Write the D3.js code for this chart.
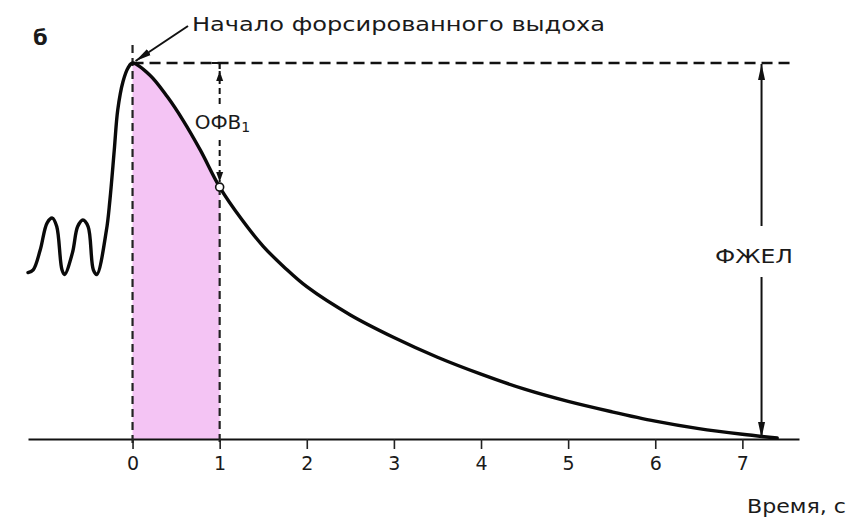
<!DOCTYPE html>
<html lang="ru">
<head>
<meta charset="utf-8">
<script src="https://cdn.jsdelivr.net/npm/d3@7"></script>
<style>
  html, body { margin: 0; padding: 0; background: #fff; }
  svg { display: block; }
  text { font-family: "DejaVu Sans", sans-serif; fill: #1a1a1a; }
</style>
</head>
<body>
<svg id="chart" width="857" height="518"></svg>
<script>
// Спирограмма: объём лёгких во времени (с), форсированный выдох начинается в t = 0
const timeS = [
  -1.20, -1.14, -1.06, -0.98, -0.92, -0.87, -0.81, -0.78, -0.69, -0.63, -0.57, -0.51,
  -0.45, -0.41, -0.30, -0.26, -0.21, -0.17, -0.11, -0.05, 0.00,
  0.20, 0.40, 0.58, 0.78, 1.00, 1.25, 1.50, 1.75, 2.00, 2.50, 3.00, 3.50, 4.00,
  4.50, 5.00, 5.50, 6.00, 6.50, 7.00, 7.40
];
const volumeL = [
  1.77, 1.80, 2.01, 2.30, 2.35, 2.26, 1.80, 1.75, 1.98, 2.26, 2.33, 2.26,
  1.80, 1.75, 2.22, 2.54, 3.07, 3.50, 3.80, 3.95, 4.00,
  3.87, 3.64, 3.39, 3.07, 2.68, 2.34, 2.05, 1.82, 1.62, 1.32, 1.08, 0.87, 0.69,
  0.53, 0.40, 0.29, 0.19, 0.11, 0.05, 0.01
];
const tickValues = [0, 1, 2, 3, 4, 5, 6, 7];
const tickLabels = ["0", "1", "2", "3", "4", "5", "6", "7"];

const fev1Time = 1;      // ОФВ1 — объём за первую секунду
const fvcTime = 7.22;    // момент окончания выдоха (ФЖЕЛ)
const peakVolume = 4.0;  // уровень начала форсированного выдоха

const points = timeS.map((t, i) => ({ t, v: volumeL[i] }));

const svg = d3.select("#chart");
const x = d3.scaleLinear().domain([-1.2, 7.65]).range([28, 799]);
const y = d3.scaleLinear().domain([0, peakVolume]).range([439, 63]);

const defs = svg.append("defs");
defs.append("marker")
  .attr("id", "arrow")
  .attr("viewBox", "0 0 10 10")
  .attr("refX", 10).attr("refY", 5)
  .attr("markerWidth", 10).attr("markerHeight", 10)
  .attr("markerUnits", "userSpaceOnUse")
  .attr("orient", "auto")
  .append("path")
  .attr("d", "M0,1.5 L10,5 L0,8.5 Z")
  .attr("fill", "#111");
defs.append("marker")
  .attr("id", "arrowLong")
  .attr("viewBox", "0 0 16 10")
  .attr("refX", 16).attr("refY", 5)
  .attr("markerWidth", 16).attr("markerHeight", 10)
  .attr("markerUnits", "userSpaceOnUse")
  .attr("orient", "auto")
  .append("path")
  .attr("d", "M0,1.5 L16,5 L0,8.5 Z")
  .attr("fill", "#111");

// Заливка: объём, выдохнутый за первую секунду
const firstSecond = points.filter(d => d.t >= 0 && d.t <= fev1Time);
svg.append("path")
  .datum(firstSecond)
  .attr("fill", "#f4c4f4")
  .attr("d", d3.area()
    .x(d => x(d.t))
    .y0(y(0))
    .y1(d => y(d.v))
    .curve(d3.curveMonotoneX));

// Ось времени
const axis = d3.axisBottom(x)
  .tickValues(tickValues)
  .tickFormat((d, i) => tickLabels[i])
  .tickSizeInner(10)
  .tickSizeOuter(0)
  .tickPadding(8);
const gAxis = svg.append("g")
  .attr("transform", `translate(0,${y(0)})`)
  .call(axis);
gAxis.select(".domain").attr("stroke", "#111").attr("stroke-width", 2);
gAxis.selectAll(".tick line").attr("stroke", "#222").attr("stroke-width", 1.6);
gAxis.selectAll(".tick text")
  .attr("font-family", "DejaVu Sans, sans-serif")
  .attr("font-size", 19)
  .attr("fill", "#333");

// Пунктирные вертикали t = 0 и t = 1
const dash = "8,5";
svg.append("line")
  .attr("x1", x(0)).attr("x2", x(0))
  .attr("y1", y(peakVolume) - 18).attr("y2", y(0) + 8)
  .attr("stroke", "#222").attr("stroke-width", 2.2).attr("stroke-dasharray", dash);
const v1 = volumeL[timeS.indexOf(fev1Time)];
svg.append("line")
  .attr("x1", x(fev1Time)).attr("x2", x(fev1Time))
  .attr("y1", y(v1)).attr("y2", y(0) + 8)
  .attr("stroke", "#222").attr("stroke-width", 2.2).attr("stroke-dasharray", dash);

// Горизонтальный пунктир на уровне начала выдоха
svg.append("line")
  .attr("x1", x(0)).attr("x2", x(fvcTime) + 28)
  .attr("y1", y(peakVolume)).attr("y2", y(peakVolume))
  .attr("stroke", "#111").attr("stroke-width", 2.6).attr("stroke-dasharray", "11,6");

// Кривая
svg.append("path")
  .datum(points)
  .attr("fill", "none")
  .attr("stroke", "#0a0a0a")
  .attr("stroke-width", 3.4)
  .attr("stroke-linejoin", "round")
  .attr("stroke-linecap", "round")
  .attr("d", d3.line()
    .x(d => x(d.t))
    .y(d => y(d.v))
    .curve(d3.curveCatmullRom.alpha(0.5)));

// ОФВ1: стрелки между уровнем пика и точкой t = 1
const xf = x(fev1Time);
svg.append("path")
  .attr("d", `M${xf - 8},${y(peakVolume)} L${xf},${y(peakVolume)} L${xf},${y(peakVolume) + 6}`)
  .attr("fill", "none").attr("stroke", "#111").attr("stroke-width", 2.2);
svg.append("line")
  .attr("x1", xf).attr("x2", xf)
  .attr("y1", 104).attr("y2", y(peakVolume) + 8)
  .attr("stroke", "#111").attr("stroke-width", 2).attr("stroke-dasharray", "6,4")
  .attr("marker-end", "url(#arrow)");
svg.append("line")
  .attr("x1", xf).attr("x2", xf)
  .attr("y1", 140).attr("y2", y(v1) - 5)
  .attr("stroke", "#111").attr("stroke-width", 2).attr("stroke-dasharray", "6,4")
  .attr("marker-end", "url(#arrow)");
const fevLabel = svg.append("text")
  .attr("x", xf - 25).attr("y", 129)
  .attr("font-size", 20);
fevLabel.append("tspan").text("ОФВ");
fevLabel.append("tspan").attr("font-size", 14).attr("dy", 3).text("1");

svg.append("circle")
  .attr("cx", xf).attr("cy", y(v1)).attr("r", 4)
  .attr("fill", "#fff").attr("stroke", "#111").attr("stroke-width", 1.6);

// ФЖЕЛ: полный выдохнутый объём
const xv = x(fvcTime);
svg.append("line")
  .attr("x1", xv).attr("x2", xv)
  .attr("y1", 226).attr("y2", y(peakVolume) + 1)
  .attr("stroke", "#111").attr("stroke-width", 2)
  .attr("marker-end", "url(#arrowLong)");
svg.append("line")
  .attr("x1", xv).attr("x2", xv)
  .attr("y1", 277).attr("y2", y(0) - 1)
  .attr("stroke", "#111").attr("stroke-width", 2)
  .attr("marker-end", "url(#arrowLong)");
svg.append("text")
  .attr("x", 715).attr("y", 263)
  .attr("font-size", 20)
  .attr("textLength", 78)
  .attr("lengthAdjust", "spacingAndGlyphs")
  .text("ФЖЕЛ");

// Подпись начала форсированного выдоха
svg.append("line")
  .attr("x1", 188).attr("x2", x(0) + 3)
  .attr("y1", 26).attr("y2", y(peakVolume) - 2)
  .attr("stroke", "#111").attr("stroke-width", 2)
  .attr("marker-end", "url(#arrowLong)");
svg.append("text")
  .attr("x", 192).attr("y", 31)
  .attr("font-size", 20)
  .attr("textLength", 413)
  .attr("lengthAdjust", "spacingAndGlyphs")
  .text("Начало форсированного выдоха");

// Буква панели и подпись оси
svg.append("text")
  .attr("x", 33).attr("y", 45)
  .attr("font-size", 21).attr("font-weight", "bold")
  .text("б");
svg.append("text")
  .attr("x", 747).attr("y", 513)
  .attr("font-size", 19)
  .attr("textLength", 99)
  .attr("lengthAdjust", "spacingAndGlyphs")
  .text("Время, с");
</script>
</body>
</html>
